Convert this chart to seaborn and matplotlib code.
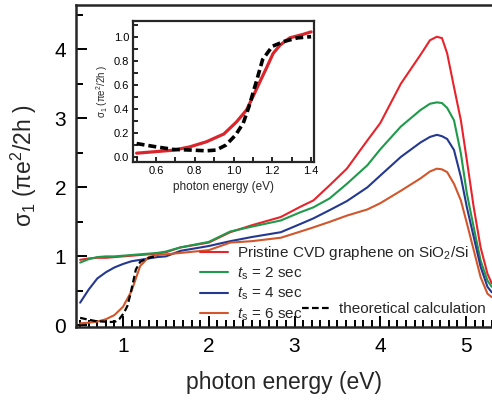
import numpy as np
import pandas as pd
import matplotlib
matplotlib.use('Agg')
import matplotlib.pyplot as plt
import seaborn as sns
from matplotlib.ticker import MultipleLocator

# ============================================================
# DATA
# ============================================================
energy = [0.5, 0.6, 0.7, 0.8, 0.9, 1.0, 1.1, 1.2, 1.3, 1.4, 1.5, 1.67, 2.0, 2.25,
          2.5, 2.84, 3.07, 3.22, 3.41, 3.61, 3.85, 4.0, 4.24, 4.47, 4.58, 4.66, 4.72,
          4.78, 4.86, 4.94, 5.01, 5.09, 5.17, 5.25, 5.3]

sigma_pristine = [0.95, 0.97, 0.98, 0.98, 0.99, 1.0, 1.01, 1.02, 1.03, 1.04, 1.06,
                  1.13, 1.2, 1.35, 1.45, 1.57, 1.72, 1.81, 2.03, 2.27, 2.68, 2.93,
                  3.5, 3.92, 4.13, 4.18, 4.16, 3.94, 3.45, 2.97, 2.39, 1.71, 1.13,
                  0.75, 0.61]
sigma_2s = [0.91, 0.96, 0.99, 1.0, 1.0, 1.01, 1.02, 1.03, 1.04, 1.05, 1.07, 1.13,
            1.21, 1.36, 1.43, 1.52, 1.64, 1.71, 1.84, 2.05, 2.32, 2.55, 2.88, 3.12,
            3.21, 3.23, 3.22, 3.15, 2.97, 2.49, 1.91, 1.42, 0.94, 0.65, 0.56]
sigma_4s = [0.33, 0.52, 0.68, 0.77, 0.84, 0.89, 0.93, 0.95, 0.97, 0.99, 1.0, 1.08,
            1.15, 1.22, 1.28, 1.35, 1.47, 1.55, 1.67, 1.8, 2.0, 2.17, 2.44, 2.65,
            2.73, 2.76, 2.74, 2.7, 2.54, 2.15, 1.71, 1.28, 0.85, 0.56, 0.48]
sigma_6s = [0.03, 0.04, 0.056, 0.09, 0.15, 0.27, 0.5, 0.86, 0.99, 1.02, 1.03, 1.05,
            1.09, 1.2, 1.22, 1.27, 1.36, 1.42, 1.5, 1.59, 1.68, 1.77, 1.95, 2.13,
            2.23, 2.27, 2.26, 2.22, 2.05, 1.81, 1.48, 1.09, 0.70, 0.46, 0.41]

theory_energy = [0.5, 0.6, 0.69, 0.78, 0.86, 0.91, 0.96, 1.01, 1.05, 1.08, 1.12,
                 1.15, 1.2, 1.26, 1.33, 1.4]
theory_sigma = [0.11, 0.083, 0.061, 0.056, 0.05, 0.056, 0.097, 0.18, 0.28, 0.42,
                0.64, 0.81, 0.92, 0.96, 0.99, 1.0]

inset_energy = [0.5, 0.69, 0.775, 0.86, 0.95, 1.015, 1.067, 1.1, 1.136, 1.17, 1.204,
                1.24, 1.29, 1.36, 1.4]
inset_sigma = [0.03, 0.055, 0.083, 0.125, 0.19, 0.29, 0.39, 0.5, 0.625, 0.74, 0.86,
               0.93, 0.99, 1.02, 1.04]

series_labels = ['Pristine CVD graphene on SiO$_2$/Si',
                 r'$t_{\rm s}$ = 2 sec', r'$t_{\rm s}$ = 4 sec', r'$t_{\rm s}$ = 6 sec']
theory_label = 'theoretical calculation'
colors = ['#e8232b', '#1e9a4a', '#24388f', '#d2562b']

# ============================================================
# STYLE
# ============================================================
sns.set_theme(style='ticks')
plt.rcParams['font.family'] = ['Liberation Sans', 'DejaVu Sans']
plt.rcParams['mathtext.fontset'] = 'custom'
plt.rcParams['mathtext.rm'] = 'Liberation Sans'
plt.rcParams['mathtext.it'] = 'Liberation Sans:italic'
plt.rcParams['axes.linewidth'] = 1.8

fig = plt.figure(figsize=(4.92, 4.05), dpi=100)
ax = fig.add_axes([0.1545, 0.193, 0.8455, 0.7947])

df = pd.DataFrame({'energy': energy, 'Pristine': sigma_pristine,
                   '2s': sigma_2s, '4s': sigma_4s, '6s': sigma_6s})
handles = []
for col, c, lab in zip(['Pristine', '2s', '4s', '6s'], colors, series_labels):
    sns.lineplot(data=df, x='energy', y=col, ax=ax, color=c, lw=1.5,
                 sort=False, estimator=None)
    handles.append(plt.Line2D([], [], color=c, lw=1.5, label=lab))

sns.lineplot(x=theory_energy, y=theory_sigma, ax=ax, color='black', lw=1.6,
             linestyle=(0, (3, 1.5)), sort=False, estimator=None)

ax.set_xlim(0.452, 5.303)
ax.set_ylim(-0.02, 4.64)
ax.xaxis.set_major_locator(MultipleLocator(1))
ax.xaxis.set_minor_locator(MultipleLocator(0.1))
ax.yaxis.set_major_locator(MultipleLocator(1))
ax.yaxis.set_minor_locator(MultipleLocator(0.5))
ax.tick_params(which='both', direction='in', width=1.4, colors='black',
               labelsize=15, top=False, right=False)
ax.tick_params(which='major', length=8, pad=7)
ax.tick_params(which='minor', length=4.8)
ax.spines['right'].set_visible(False)
ax.set_xlabel('photon energy (eV)', fontsize=16.5, labelpad=11)
ax.set_ylabel('σ$_1$ (πe$^2$/2h )', fontsize=16.5, labelpad=11)

leg1 = ax.legend(handles=handles, loc='upper left', frameon=False, fontsize=11,
                 handlelength=1.8, handletextpad=0.6, labelspacing=0.25,
                 borderpad=0, borderaxespad=0,
                 bbox_to_anchor=(200 / 492, 1 - 244 / 405),
                 bbox_transform=fig.transFigure)
ax.add_artist(leg1)
th_handle = plt.Line2D([], [], color='black', lw=1.6, linestyle=(0, (3, 1.5)),
                       label=theory_label)
ax.legend(handles=[th_handle], loc='center left', frameon=False, fontsize=11,
          handlelength=1.8, handletextpad=0.6, borderpad=0, borderaxespad=0,
          bbox_to_anchor=(302 / 492, 1 - 309 / 405),
          bbox_transform=fig.transFigure)

# ============================================================
# INSET
# ============================================================
ins = fig.add_axes([0.271, 0.601, 0.368, 0.347])
sns.lineplot(x=inset_energy, y=inset_sigma, ax=ins, color='#d9262c', lw=2.3,
             sort=False, estimator=None)
sns.lineplot(x=theory_energy, y=theory_sigma, ax=ins, color='black', lw=2.6,
             linestyle=(0, (2.2, 1.1)), sort=False, estimator=None)
ins.set_xlim(0.483, 1.417)
ins.set_ylim(-0.04, 1.13)
ins.xaxis.set_major_locator(MultipleLocator(0.2))
ins.xaxis.set_minor_locator(MultipleLocator(0.1))
ins.yaxis.set_major_locator(MultipleLocator(0.2))
ins.yaxis.set_minor_locator(MultipleLocator(0.1))
ins.tick_params(which='both', direction='in', width=1.2, length=3.5,
                labelsize=8, pad=3, top=False, right=False, colors='black')
for s in ins.spines.values():
    s.set_linewidth(1.6)
ins.set_xlabel('photon energy (eV)', fontsize=8.5, labelpad=4)
ins.set_ylabel('σ$_1$ (πe$^2$/2h )', fontsize=7, labelpad=3)

fig.savefig('out.png', dpi=100)
